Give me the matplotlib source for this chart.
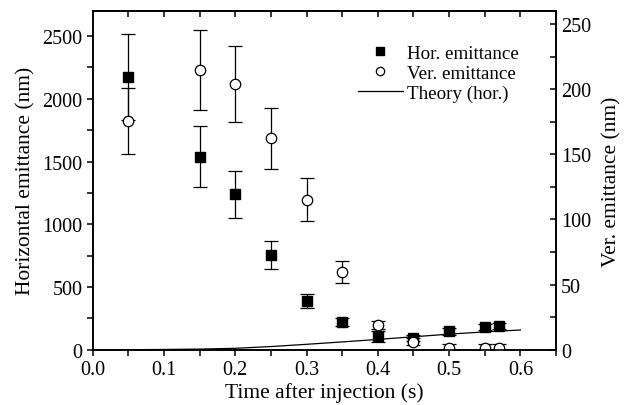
import matplotlib
matplotlib.use("Agg")
import matplotlib.pyplot as plt
from matplotlib.ticker import MultipleLocator, FormatStrFormatter

plt.rcParams['font.family'] = ['Liberation Serif', 'DejaVu Serif']

# Horizontal emittance (left axis, nm)
t_hor = [0.05, 0.15, 0.20, 0.25, 0.30, 0.35, 0.40, 0.45, 0.50, 0.55, 0.57]
hor = [2175, 1540, 1240, 754, 390, 218, 107, 95, 146, 183, 191]
hor_err = [345, 240, 187, 112, 55, 32, 42, 25, 25, 25, 25]

# Vertical emittance (right axis, nm)
t_ver = [0.05, 0.15, 0.20, 0.25, 0.30, 0.35, 0.40, 0.45, 0.50, 0.55, 0.57]
ver = [175.5, 214.7, 204, 162.4, 115, 59.5, 19, 6.2, 1.5, 1.5, 1.5]
ver_err = [25.5, 31, 29.5, 23.5, 16.5, 8.3, 3, 2.5, 2.5, 2.5, 2.5]

# Theory (hor.)
t_th = [0, 0.05, 0.10, 0.15, 0.20, 0.25, 0.30, 0.35, 0.40, 0.45, 0.50, 0.55, 0.60]
theory = [0, 0, 2, 5, 11, 25, 43, 62, 82, 103, 124, 142, 157]

fig = plt.figure(figsize=(6.29, 4.06), dpi=100)
ax = fig.add_axes([0.1474, 0.1362, 0.7366, 0.8342])
ax2 = ax.twinx()

l_th, = ax.plot(t_th, theory, color='black', lw=0.9, label='Theory (hor.)')
eb1 = ax.errorbar(t_hor, hor, yerr=hor_err, fmt='s', color='black', mfc='black',
                  ms=7.5, capsize=5, elinewidth=0.9, capthick=0.9, label='Hor. emittance')
eb2 = ax2.errorbar(t_ver, ver, yerr=ver_err, fmt='o', color='black', mfc='white',
                   ms=7.5, mew=0.9, capsize=5, elinewidth=0.9, capthick=0.9,
                   label='Ver. emittance')

ax.set_xlim(0, 0.65)
ax.set_ylim(0, 2700)
ax2.set_ylim(0, 260)

ax.xaxis.set_major_locator(MultipleLocator(0.1))
ax.xaxis.set_minor_locator(MultipleLocator(0.05))
ax.xaxis.set_major_formatter(FormatStrFormatter('%.1f'))
ax.yaxis.set_major_locator(MultipleLocator(500))
ax.yaxis.set_minor_locator(MultipleLocator(250))
ax2.yaxis.set_major_locator(MultipleLocator(50))
ax2.yaxis.set_minor_locator(MultipleLocator(25))

for a in (ax, ax2):
    for s in a.spines.values():
        s.set_linewidth(1.2)

ax.tick_params(axis='x', which='both', direction='out', top=False, labelsize=14.5,
               length=4, width=1.1)
ax.tick_params(axis='y', which='both', direction='out', right=False, labelsize=14.5,
               length=4, width=1.1)
ax2.tick_params(axis='y', which='both', direction='in', labelsize=14.5,
                length=4, width=1.1)

# top ticks pointing into plot
secx = ax.secondary_xaxis('top')
secx.xaxis.set_major_locator(MultipleLocator(0.1))
secx.xaxis.set_minor_locator(MultipleLocator(0.05))
secx.tick_params(axis='x', which='both', direction='in', length=4, width=1.1,
                 labelbottom=False, labeltop=False)
secx.spines['top'].set_linewidth(1.2)

ax.set_xlabel('Time after injection (s)', fontsize=15.5, labelpad=2.5)
ax.set_ylabel('Horizontal emittance (nm)', fontsize=15.5, labelpad=5)
ax2.set_ylabel('Ver. emittance (nm)', fontsize=15.5, labelpad=8)

leg = ax2.legend([eb1[0], eb2[0], l_th], ['Hor. emittance', 'Ver. emittance', 'Theory (hor.)'],
                 loc='upper left', bbox_to_anchor=(0.543, 0.941), frameon=False,
                 fontsize=13.7, handlelength=2.4, handletextpad=0.2, labelspacing=0.14,
                 markerscale=0.8, borderpad=0.2)

fig.savefig('out.png', dpi=100)
